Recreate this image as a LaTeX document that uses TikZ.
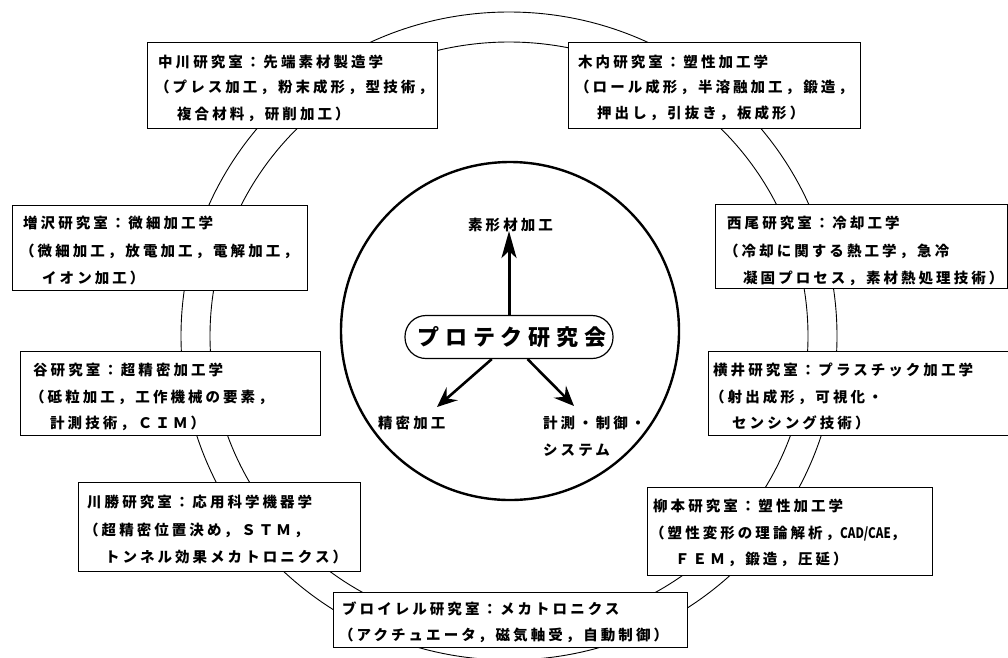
\documentclass[tikz,border=0pt]{standalone}
\usepackage{fontspec}
\usepackage{graphicx}
\setmainfont{Noto Sans CJK JP}[LetterSpace=21]
\usetikzlibrary{arrows.meta}
\begin{document}
\begin{tikzpicture}[x=1pt,y=-1pt,
  labbox/.style={draw, line width=0.9pt, fill=white, inner sep=0pt, anchor=north west},
  txt/.style={inner sep=0pt, anchor=base west, font=\fontsize{14.5}{17}\selectfont\bfseries},
  ringline/.style={line width=0.9pt},
  hubcircle/.style={draw, circle, line width=2.4pt, inner sep=0pt, minimum size=338pt},
  probox/.style={draw, line width=1.2pt, rounded corners=21pt, inner sep=0pt,
    minimum width=208pt, minimum height=43pt,
    font=\fontsize{22}{24}\selectfont\bfseries\addfontfeature{LetterSpace=26}},
  uparrow/.style={line width=3pt, -{Stealth[length=27pt, width=15pt, inset=7pt]}},
  downarrow/.style={line width=2.6pt, -{Stealth[length=20pt, width=17pt, inset=7pt]}}
]
\useasboundingbox (0,0) rectangle (1008,657);

% ring
\draw[ringline] (509,336) ellipse [x radius=328pt, y radius=324pt];
\draw[ringline] (509,336) ellipse [x radius=299pt, y radius=294pt];

% central circle
\node[hubcircle] (hub) at (510,331) {};
\node[probox] (pro) at (509,337) {\kern6pt プロテク研究会};
\node[txt] (soke) at (468,230.5) {素形材加工};
\node[txt] (seim) at (378,428.5) {精密加工};
\node[txt] (keis) at (543,428.5) {計測・制御・};
\node[txt] (syst) at (543,455.5) {システム};
\coordinate (tipU) at (509,231);
\coordinate (tipL) at (437,407);
\coordinate (tipR) at (574,406);
\draw[uparrow] (pro.north) -- (tipU);
\draw[downarrow] (pro.-128) -- (tipL);
\draw[downarrow] (pro.-50) -- (tipR);

% 中川
\node[labbox, minimum width=290pt, minimum height=86pt] (nak) at (147,42) {};
\node[txt] (nakA) at (158,67.5) {中川研究室：先端素材製造学};
\node[txt] (nakB) at (155,92.5) {（プレス加工，粉末成形，型技術，};
\node[txt] (nakC) at (177,119) {複合材料，研削加工）};

% 木内
\node[labbox, minimum width=292pt, minimum height=86pt] (kiu) at (568,42) {};
\node[txt] (kiuA) at (578,67.5) {木内研究室：塑性加工学};
\node[txt] (kiuB) at (575,92) {（ロール成形，半溶融加工，鍛造，};
\node[txt] (kiuC) at (597,118) {押出し，引抜き，板成形）};

% 増沢
\node[labbox, minimum width=295pt, minimum height=85pt] (mas) at (12,205) {};
\node[txt] (masA) at (23,228.5) {増沢研究室：微細加工学};
\node[txt] (masB) at (20,256.5) {（微細加工，放電加工，電解加工，};
\node[txt] (masC) at (42,283.5) {イオン加工）};

% 西尾
\node[labbox, minimum width=292pt, minimum height=84pt] (nis) at (715,204) {};
\node[txt] (nisA) at (727,228.5) {西尾研究室：冷却工学};
\node[txt] (nisB) at (724,256.5) {（冷却に関する熱工学，急冷};
\node[txt] (nisC) at (743,283.5) {凝固プロセス，素材熱処理技術）};

% 谷
\node[labbox, minimum width=300pt, minimum height=84pt] (tan) at (20,351) {};
\node[txt] (tanA) at (33,375.5) {谷研究室：超精密加工学};
\node[txt] (tanB) at (30,402.5) {（砥粒加工，工作機械の要素，};
\node[txt] (tanC) at (50,428.5) {計測技術，ＣＩＭ）};

% 横井
\node[labbox, minimum width=300pt, minimum height=84pt] (yok) at (708,351) {};
\node[txt] (yokA) at (713,375.5) {横井研究室：プラスチック加工学};
\node[txt] (yokB) at (710,402.5) {（射出成形，可視化・};
\node[txt] (yokC) at (732,428.5) {センシング技術）};

% 川勝
\node[labbox, minimum width=282pt, minimum height=89pt] (kaw) at (78,482) {};
\node[txt] (kawA) at (87,507) {川勝研究室：応用科学機器学};
\node[txt] (kawB) at (84,535) {（超精密位置決め，ＳＴＭ，};
\node[txt] (kawC) at (105,562) {トンネル効果メカトロニクス）};

% 柳本
\node[labbox, minimum width=285pt, minimum height=88pt] (yan) at (647,487) {};
\node[txt] (yanA) at (653,511.5) {柳本研究室：塑性加工学};
\node[txt] (yanB) at (650,538.5) {（塑性変形の理論解析，\scalebox{0.8}[1]{\addfontfeature{LetterSpace=0}CAD/CAE}，};
\node[txt] (yanC) at (675,564.5) {ＦＥＭ，鍛造，圧延）};

% ブロイレル
\node[labbox, minimum width=354pt, minimum height=55pt] (ble) at (333,592) {};
\node[txt] (bleA) at (342,614.5) {ブロイレル研究室：メカトロニクス};
\node[txt] (bleB) at (339,640.5) {（アクチュエータ，磁気軸受，自動制御）};
\end{tikzpicture}
\end{document}
